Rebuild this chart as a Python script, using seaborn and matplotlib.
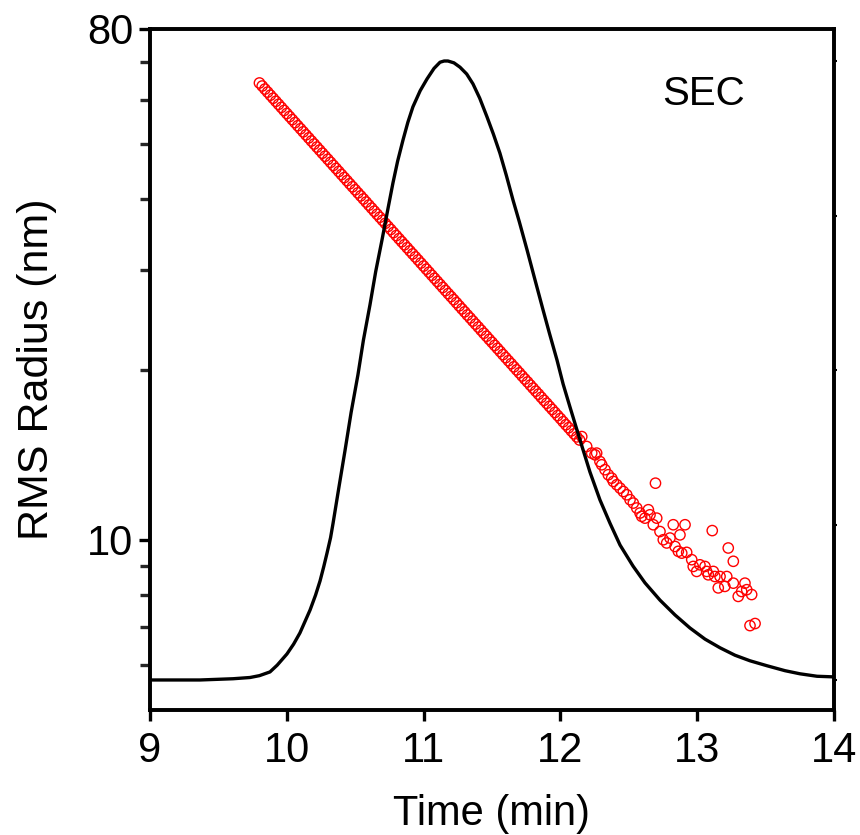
import numpy as np
import pandas as pd
import matplotlib
matplotlib.use("Agg")
import matplotlib.pyplot as plt
import seaborn as sns
from matplotlib.ticker import FixedLocator, NullFormatter, FixedFormatter

# ---------------- data ----------------
# RMS radius (light scattering), smooth part (every 0.02 min from 9.80 min)
rms_time_start = 9.80
rms_time_step = 0.02
rms_smooth = [
    64.22, 63.43, 62.64, 61.87, 61.10, 60.35, 59.60, 58.87, 58.14, 57.42,
    56.71, 56.01, 55.32, 54.64, 53.96, 53.30, 52.64, 51.99, 51.35, 50.71,
    50.09, 49.47, 48.86, 48.25, 47.66, 47.07, 46.49, 45.91, 45.35, 44.79,
    44.23, 43.69, 43.15, 42.61, 42.09, 41.57, 41.05, 40.55, 40.05, 39.55,
    39.06, 38.58, 38.10, 37.63, 37.17, 36.71, 36.26, 35.81, 35.37, 34.93,
    34.50, 34.07, 33.65, 33.24, 32.83, 32.42, 32.02, 31.63, 31.24, 30.85,
    30.47, 30.09, 29.72, 29.35, 28.99, 28.63, 28.28, 27.93, 27.58, 27.24,
    26.91, 26.58, 26.25, 25.92, 25.60, 25.29, 24.97, 24.67, 24.36, 24.06,
    23.77, 23.47, 23.18, 22.90, 22.61, 22.34, 22.06, 21.79, 21.52, 21.25,
    20.99, 20.73, 20.48, 20.22, 19.97, 19.73, 19.48, 19.24, 19.01, 18.77,
    18.54, 18.31, 18.09, 17.86, 17.64, 17.43, 17.21, 17.00, 16.79, 16.58,
    16.38, 16.17, 15.97, 15.78, 15.58, 15.39, 15.20, 15.01,
]
# noisy tail of the RMS radius data
rms_tail_time = [
    12.156, 12.192, 12.229, 12.253, 12.265, 12.289, 12.302, 12.326, 12.350, 12.375,
    12.387, 12.412, 12.436, 12.460, 12.485, 12.509, 12.533, 12.558, 12.582, 12.594,
    12.618, 12.643, 12.655, 12.679, 12.695, 12.704, 12.728, 12.752, 12.777, 12.801,
    12.825, 12.838, 12.862, 12.874, 12.887, 12.911, 12.923, 12.960, 12.971, 12.996,
    13.020, 13.057, 13.069, 13.081, 13.110, 13.118, 13.129, 13.154, 13.167, 13.202,
    13.216, 13.227, 13.264, 13.264, 13.300, 13.325, 13.349, 13.362, 13.398, 13.386,
    13.423,
]
rms_tail_radius = [
    15.22, 14.62, 14.23, 14.13, 14.23, 13.75, 13.57, 13.30, 13.03, 12.85,
    12.68, 12.51, 12.34, 12.17, 12.01, 11.77, 11.61, 11.38, 11.15, 11.00,
    10.92, 11.30, 11.07, 10.63, 12.59, 10.92, 10.34, 10.00, 9.87, 10.07,
    10.63, 9.73, 9.54, 10.20, 9.47, 10.63, 9.50, 9.22, 8.97, 8.79,
    9.03, 8.97, 8.79, 8.67, 10.38, 8.79, 8.61, 8.22, 8.61, 8.27,
    8.61, 9.67, 9.16, 8.38, 7.94, 8.10, 8.38, 8.16, 8.00, 7.05,
    7.11,
]

# SEC chromatogram (detector signal, normalised)
sec_time = [
    9.000, 9.365, 9.607, 9.731, 9.800, 9.877, 9.930, 10.001, 10.050, 10.096,
    10.130, 10.170, 10.210, 10.243, 10.270, 10.294, 10.320, 10.338, 10.380, 10.425,
    10.470, 10.520, 10.560, 10.608, 10.650, 10.696, 10.740, 10.776, 10.810, 10.849,
    10.885, 10.922, 10.975, 11.025, 11.076, 11.120, 11.150, 11.178, 11.222, 11.266,
    11.315, 11.361, 11.410, 11.463, 11.510, 11.558, 11.605, 11.654, 11.700, 11.756,
    11.810, 11.873, 11.920, 11.975, 12.020, 12.070, 12.143, 12.216, 12.289, 12.363,
    12.436, 12.531, 12.618, 12.728, 12.838, 12.947, 13.057, 13.167, 13.276, 13.386,
    13.510, 13.642, 13.751, 13.876, 14.000,
]
sec_signal = [
    0.000, 0.000, 0.002, 0.004, 0.007, 0.013, 0.024, 0.042, 0.058, 0.076,
    0.093, 0.113, 0.137, 0.160, 0.183, 0.205, 0.230, 0.253, 0.310, 0.370,
    0.432, 0.493, 0.549, 0.606, 0.660, 0.711, 0.762, 0.803, 0.838, 0.872,
    0.901, 0.926, 0.952, 0.971, 0.988, 0.998, 1.000, 1.000, 0.997, 0.990,
    0.979, 0.963, 0.940, 0.910, 0.882, 0.851, 0.815, 0.775, 0.740, 0.695,
    0.650, 0.598, 0.560, 0.517, 0.478, 0.441, 0.388, 0.336, 0.291, 0.253,
    0.218, 0.184, 0.157, 0.129, 0.105, 0.084, 0.066, 0.052, 0.040, 0.031,
    0.023, 0.015, 0.010, 0.006, 0.005,
]

x_ticks = [9, 10, 11, 12, 13, 14]
y_major = [10, 80]
y_minor = [6, 7, 8, 9, 20, 30, 40, 50, 60, 70]

# --------------- build tables ---------------
rms_time = [round(rms_time_start + i * rms_time_step, 3) for i in range(len(rms_smooth))]
rms_df = pd.DataFrame({
    "time": rms_time + rms_tail_time,
    "radius": rms_smooth + rms_tail_radius,
})
sec_df = pd.DataFrame({"time": sec_time, "signal": sec_signal})

# --------------- plot ---------------
sns.set_style("ticks")
plt.rcParams["font.family"] = ["Liberation Sans", "DejaVu Sans"]
plt.rcParams["text.color"] = "black"
plt.rcParams["axes.labelcolor"] = "black"

fig = plt.figure(figsize=(8.6, 8.35), dpi=100)
ax = fig.add_axes([150 / 860, 1 - 710 / 835, (834 - 150) / 860, (710 - 29) / 835])

sns.scatterplot(data=rms_df, x="time", y="radius", ax=ax, marker="o",
                s=55, facecolors="none", edgecolors="#ff0000", linewidth=1.0,
                legend=False, zorder=2)

ax.set_yscale("log")
ax.set_xlim(9, 14)
ax.set_ylim(5, 80)

ax.yaxis.set_major_locator(FixedLocator(y_major))
ax.yaxis.set_major_formatter(FixedFormatter([str(v) for v in y_major]))
ax.yaxis.set_minor_locator(FixedLocator(y_minor))
ax.yaxis.set_minor_formatter(NullFormatter())
ax.set_xticks(x_ticks)
ax.set_xticklabels([str(v) for v in x_ticks])

for side in ["left", "right", "top", "bottom"]:
    ax.spines[side].set_linewidth(2.6)
    ax.spines[side].set_color("black")

ax.tick_params(axis="both", which="major", direction="out", length=8, width=2.4,
               labelsize=30, pad=4, colors="black")
ax.tick_params(axis="y", which="minor", direction="out", length=7, width=2.4)
ax.tick_params(axis="x", which="major", pad=7)

ax.set_xlabel("Time (min)", fontsize=30, labelpad=17, color="black")
ax.set_ylabel("RMS Radius (nm)", fontsize=31, labelpad=22, color="black")

ax.text(0.81, 0.905, "SEC", transform=ax.transAxes, fontsize=29,
        ha="center", va="center", color="black")

# chromatogram on twin linear axis
ax2 = ax.twinx()
sns.lineplot(data=sec_df, x="time", y="signal", ax=ax2, color="black",
             linewidth=2.4, legend=False)
ax2.set_xlim(9, 14)
ax2.set_ylim(-0.0485, 1.0517)
ax2.set_yticks([0, 0.25, 0.5, 0.75, 1.0])
ax2.set_yticklabels([])
ax2.set_ylabel("")
ax2.set_xlabel("")
ax2.tick_params(axis="y", direction="out", length=2, width=1.5, colors="black")
for side in ["left", "right", "top", "bottom"]:
    ax2.spines[side].set_linewidth(2.6)
    ax2.spines[side].set_color("black")

fig.savefig("out.png", dpi=100)
